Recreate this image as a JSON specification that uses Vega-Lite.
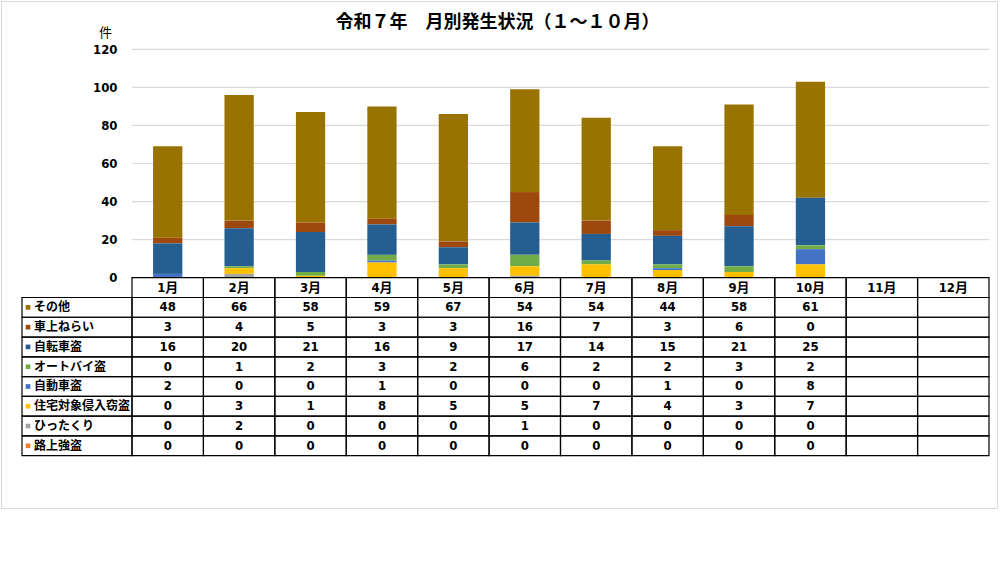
{
  "$schema": "https://vega.github.io/schema/vega-lite/v6.json",
  "width": 996,
  "height": 507,
  "autosize": "none",
  "padding": {"left": 1, "top": 1, "right": 1, "bottom": 1},
  "title": {
    "text": "令和７年　月別発生状況（１～１０月）",
    "font": "Noto Sans CJK JP",
    "fontSize": 18,
    "fontWeight": "bold",
    "color": "#000000",
    "anchor": "middle",
    "frame": "group",
    "baseline": "alphabetic",
    "offset": 0,
    "dy": 45,
    "dx": -1.5
  },
  "datasets": {
    "series": [
      {"type": "その他", "seq": 8},
      {"type": "車上ねらい", "seq": 7},
      {"type": "自転車盗", "seq": 6},
      {"type": "オートバイ盗", "seq": 5},
      {"type": "自動車盗", "seq": 4},
      {"type": "住宅対象侵入窃盗", "seq": 3},
      {"type": "ひったくり", "seq": 2},
      {"type": "路上強盗", "seq": 1}
    ],
    "gridlines": [
      {"v": 20}, {"v": 40}, {"v": 60}, {"v": 80}, {"v": 100}, {"v": 120}
    ],
    "crime": [
      {"month": "1月", "type": "その他", "count": 48},
      {"month": "1月", "type": "車上ねらい", "count": 3},
      {"month": "1月", "type": "自転車盗", "count": 16},
      {"month": "1月", "type": "オートバイ盗", "count": 0},
      {"month": "1月", "type": "自動車盗", "count": 2},
      {"month": "1月", "type": "住宅対象侵入窃盗", "count": 0},
      {"month": "1月", "type": "ひったくり", "count": 0},
      {"month": "1月", "type": "路上強盗", "count": 0},
      {"month": "2月", "type": "その他", "count": 66},
      {"month": "2月", "type": "車上ねらい", "count": 4},
      {"month": "2月", "type": "自転車盗", "count": 20},
      {"month": "2月", "type": "オートバイ盗", "count": 1},
      {"month": "2月", "type": "自動車盗", "count": 0},
      {"month": "2月", "type": "住宅対象侵入窃盗", "count": 3},
      {"month": "2月", "type": "ひったくり", "count": 2},
      {"month": "2月", "type": "路上強盗", "count": 0},
      {"month": "3月", "type": "その他", "count": 58},
      {"month": "3月", "type": "車上ねらい", "count": 5},
      {"month": "3月", "type": "自転車盗", "count": 21},
      {"month": "3月", "type": "オートバイ盗", "count": 2},
      {"month": "3月", "type": "自動車盗", "count": 0},
      {"month": "3月", "type": "住宅対象侵入窃盗", "count": 1},
      {"month": "3月", "type": "ひったくり", "count": 0},
      {"month": "3月", "type": "路上強盗", "count": 0},
      {"month": "4月", "type": "その他", "count": 59},
      {"month": "4月", "type": "車上ねらい", "count": 3},
      {"month": "4月", "type": "自転車盗", "count": 16},
      {"month": "4月", "type": "オートバイ盗", "count": 3},
      {"month": "4月", "type": "自動車盗", "count": 1},
      {"month": "4月", "type": "住宅対象侵入窃盗", "count": 8},
      {"month": "4月", "type": "ひったくり", "count": 0},
      {"month": "4月", "type": "路上強盗", "count": 0},
      {"month": "5月", "type": "その他", "count": 67},
      {"month": "5月", "type": "車上ねらい", "count": 3},
      {"month": "5月", "type": "自転車盗", "count": 9},
      {"month": "5月", "type": "オートバイ盗", "count": 2},
      {"month": "5月", "type": "自動車盗", "count": 0},
      {"month": "5月", "type": "住宅対象侵入窃盗", "count": 5},
      {"month": "5月", "type": "ひったくり", "count": 0},
      {"month": "5月", "type": "路上強盗", "count": 0},
      {"month": "6月", "type": "その他", "count": 54},
      {"month": "6月", "type": "車上ねらい", "count": 16},
      {"month": "6月", "type": "自転車盗", "count": 17},
      {"month": "6月", "type": "オートバイ盗", "count": 6},
      {"month": "6月", "type": "自動車盗", "count": 0},
      {"month": "6月", "type": "住宅対象侵入窃盗", "count": 5},
      {"month": "6月", "type": "ひったくり", "count": 1},
      {"month": "6月", "type": "路上強盗", "count": 0},
      {"month": "7月", "type": "その他", "count": 54},
      {"month": "7月", "type": "車上ねらい", "count": 7},
      {"month": "7月", "type": "自転車盗", "count": 14},
      {"month": "7月", "type": "オートバイ盗", "count": 2},
      {"month": "7月", "type": "自動車盗", "count": 0},
      {"month": "7月", "type": "住宅対象侵入窃盗", "count": 7},
      {"month": "7月", "type": "ひったくり", "count": 0},
      {"month": "7月", "type": "路上強盗", "count": 0},
      {"month": "8月", "type": "その他", "count": 44},
      {"month": "8月", "type": "車上ねらい", "count": 3},
      {"month": "8月", "type": "自転車盗", "count": 15},
      {"month": "8月", "type": "オートバイ盗", "count": 2},
      {"month": "8月", "type": "自動車盗", "count": 1},
      {"month": "8月", "type": "住宅対象侵入窃盗", "count": 4},
      {"month": "8月", "type": "ひったくり", "count": 0},
      {"month": "8月", "type": "路上強盗", "count": 0},
      {"month": "9月", "type": "その他", "count": 58},
      {"month": "9月", "type": "車上ねらい", "count": 6},
      {"month": "9月", "type": "自転車盗", "count": 21},
      {"month": "9月", "type": "オートバイ盗", "count": 3},
      {"month": "9月", "type": "自動車盗", "count": 0},
      {"month": "9月", "type": "住宅対象侵入窃盗", "count": 3},
      {"month": "9月", "type": "ひったくり", "count": 0},
      {"month": "9月", "type": "路上強盗", "count": 0},
      {"month": "10月", "type": "その他", "count": 61},
      {"month": "10月", "type": "車上ねらい", "count": 0},
      {"month": "10月", "type": "自転車盗", "count": 25},
      {"month": "10月", "type": "オートバイ盗", "count": 2},
      {"month": "10月", "type": "自動車盗", "count": 8},
      {"month": "10月", "type": "住宅対象侵入窃盗", "count": 7},
      {"month": "10月", "type": "ひったくり", "count": 0},
      {"month": "10月", "type": "路上強盗", "count": 0},
      {"month": "11月", "type": "その他", "count": null},
      {"month": "11月", "type": "車上ねらい", "count": null},
      {"month": "11月", "type": "自転車盗", "count": null},
      {"month": "11月", "type": "オートバイ盗", "count": null},
      {"month": "11月", "type": "自動車盗", "count": null},
      {"month": "11月", "type": "住宅対象侵入窃盗", "count": null},
      {"month": "11月", "type": "ひったくり", "count": null},
      {"month": "11月", "type": "路上強盗", "count": null},
      {"month": "12月", "type": "その他", "count": null},
      {"month": "12月", "type": "車上ねらい", "count": null},
      {"month": "12月", "type": "自転車盗", "count": null},
      {"month": "12月", "type": "オートバイ盗", "count": null},
      {"month": "12月", "type": "自動車盗", "count": null},
      {"month": "12月", "type": "住宅対象侵入窃盗", "count": null},
      {"month": "12月", "type": "ひったくり", "count": null},
      {"month": "12月", "type": "路上強盗", "count": null}
    ]
  },
  "layer": [
    {
      "data": {"name": "crime"},
      "layer": [
        {
          "data": {"name": "gridlines"},
          "mark": {"type": "rule", "color": "#d9d9d9", "strokeWidth": 1.2},
          "encoding": {
            "x": {
              "datum": "1月", "type": "nominal", "bandPosition": 0,
              "scale": {"type": "band", "domain": ["1月", "2月", "3月", "4月", "5月", "6月", "7月", "8月", "9月", "10月", "11月", "12月"], "paddingInner": 0, "paddingOuter": 0.9732, "align": 0.9424},
              "axis": null
            },
            "x2": {"datum": "12月", "bandPosition": 1},
            "y": {
              "field": "v", "type": "quantitative",
              "scale": {"domain": [-121, 145.38], "nice": false, "zero": false},
              "axis": {
                "values": [0, 20, 40, 60, 80, 100, 120],
                "offset": -117, "domain": false, "ticks": false, "grid": false,
                "labelPadding": 1, "labelFont": "Liberation Sans Narrow, DejaVu Sans Condensed", "labelFontSize": 13,
                "labelFontWeight": "bold", "labelColor": "#000000",
                "title": "件", "titleAngle": 0, "titleX": -13, "titleY": 31,
                "titleAlign": "center", "titleBaseline": "middle",
                "titleFont": "Noto Sans CJK JP", "titleFontSize": 13, "titleFontWeight": "normal", "titleColor": "#000000"
              }
            }
          }
        },
        {
          "transform": [
            {"lookup": "type", "from": {"data": {"name": "series"}, "key": "type", "fields": ["seq"]}}
          ],
          "mark": {"type": "bar", "width": {"band": 0.41}},
          "encoding": {
            "x": {
              "field": "month", "type": "nominal",
              "scale": {"type": "band", "domain": ["1月", "2月", "3月", "4月", "5月", "6月", "7月", "8月", "9月", "10月", "11月", "12月"], "paddingInner": 0, "paddingOuter": 0.9732, "align": 0.9424},
              "axis": null
            },
            "y": {
              "field": "count", "type": "quantitative",
              "scale": {"domain": [-121, 145.38], "nice": false, "zero": false},
              "axis": {
                "values": [0, 20, 40, 60, 80, 100, 120],
                "offset": -117, "domain": false, "ticks": false, "grid": false,
                "labelPadding": 1, "labelFont": "Liberation Sans Narrow, DejaVu Sans Condensed", "labelFontSize": 13,
                "labelFontWeight": "bold", "labelColor": "#000000",
                "title": "件", "titleAngle": 0, "titleX": -13, "titleY": 31,
                "titleAlign": "center", "titleBaseline": "middle",
                "titleFont": "Noto Sans CJK JP", "titleFontSize": 13, "titleFontWeight": "normal", "titleColor": "#000000"
              }
            },
            "color": {
              "field": "type", "type": "nominal", "legend": null,
              "scale": {
                "domain": ["その他", "車上ねらい", "自転車盗", "オートバイ盗", "自動車盗", "住宅対象侵入窃盗", "ひったくり", "路上強盗"],
                "range": ["#997300", "#9e480e", "#255e91", "#70ad47", "#4472c4", "#ffc000", "#a5a5a5", "#ed7d31"]
              }
            },
            "order": {"field": "seq", "type": "quantitative"}
          }
        }
      ]
    },
    {
      "data": {"name": "crime"},
      "encoding": {
        "x": {
          "field": "month", "type": "nominal",
          "scale": {"type": "band", "domain": ["1月", "2月", "3月", "4月", "5月", "6月", "7月", "8月", "9月", "10月", "11月", "12月"], "paddingInner": 0, "paddingOuter": 0.9732, "align": 0.9424},
          "axis": null
        }
      },
      "layer": [
        {
          "mark": {"type": "rect", "filled": false, "stroke": "#000000", "strokeWidth": 1.2},
          "encoding": {
            "y": {
              "field": "type", "type": "nominal",
              "scale": {"type": "band", "domain": ["header", "その他", "車上ねらい", "自転車盗", "オートバイ盗", "自動車盗", "住宅対象侵入窃盗", "ひったくり", "路上強盗"], "paddingInner": 0, "paddingOuter": 0, "range": [276.7, 454.7]},
              "axis": null
            }
          }
        },
        {
          "transform": [{"filter": "isValid(datum.count)"}],
          "mark": {"type": "text", "font": "Liberation Sans Narrow, DejaVu Sans Condensed", "fontSize": 13, "fontWeight": "bold", "color": "#000000", "baseline": "middle"},
          "encoding": {
            "y": {"field": "type", "type": "nominal"},
            "text": {"field": "count", "type": "quantitative"}
          }
        },
        {
          "transform": [{"filter": "datum.type == 'その他'"}],
          "mark": {"type": "rect", "filled": false, "stroke": "#000000", "strokeWidth": 1.2},
          "encoding": {
            "y": {"datum": "header", "type": "nominal"}
          }
        },
        {
          "transform": [{"filter": "datum.type == 'その他'"}],
          "mark": {"type": "text", "font": "Liberation Sans Narrow, DejaVu Sans Condensed, Noto Sans CJK JP", "fontSize": 13, "fontWeight": "bold", "color": "#000000", "baseline": "middle"},
          "encoding": {
            "y": {"datum": "header", "type": "nominal"},
            "text": {"field": "month", "type": "nominal"}
          }
        }
      ]
    },
    {
      "data": {"name": "series"},
      "encoding": {
        "y": {
          "field": "type", "type": "nominal",
          "scale": {"type": "band", "domain": ["header", "その他", "車上ねらい", "自転車盗", "オートバイ盗", "自動車盗", "住宅対象侵入窃盗", "ひったくり", "路上強盗"], "paddingInner": 0, "paddingOuter": 0, "range": [276.7, 454.7]},
          "axis": null
        }
      },
      "layer": [
        {
          "mark": {"type": "rect", "filled": false, "stroke": "#000000", "strokeWidth": 1.2},
          "encoding": {
            "x": {
              "datum": "label", "type": "nominal",
              "scale": {"type": "band", "domain": ["label"], "paddingInner": 0, "paddingOuter": 0, "range": [21, 131]},
              "axis": null
            }
          }
        },
        {
          "mark": {"type": "point", "shape": "square", "filled": true, "size": 22, "opacity": 1},
          "encoding": {
            "x": {"datum": "label", "type": "nominal", "bandPosition": 0.055},
            "color": {
              "field": "type", "type": "nominal", "legend": null,
              "scale": {
                "domain": ["その他", "車上ねらい", "自転車盗", "オートバイ盗", "自動車盗", "住宅対象侵入窃盗", "ひったくり", "路上強盗"],
                "range": ["#997300", "#9e480e", "#255e91", "#70ad47", "#4472c4", "#ffc000", "#a5a5a5", "#ed7d31"]
              }
            }
          }
        },
        {
          "mark": {"type": "text", "font": "Noto Sans CJK JP", "fontSize": 12, "fontWeight": "bold", "color": "#000000", "align": "left", "baseline": "middle"},
          "encoding": {
            "x": {"datum": "label", "type": "nominal", "bandPosition": 0.109},
            "text": {"field": "type", "type": "nominal"}
          }
        }
      ]
    }
  ],
  "resolve": {"scale": {"x": "independent", "y": "independent"}},
  "config": {
    "view": {"stroke": "#d9d9d9", "strokeWidth": 1}
  }
}
